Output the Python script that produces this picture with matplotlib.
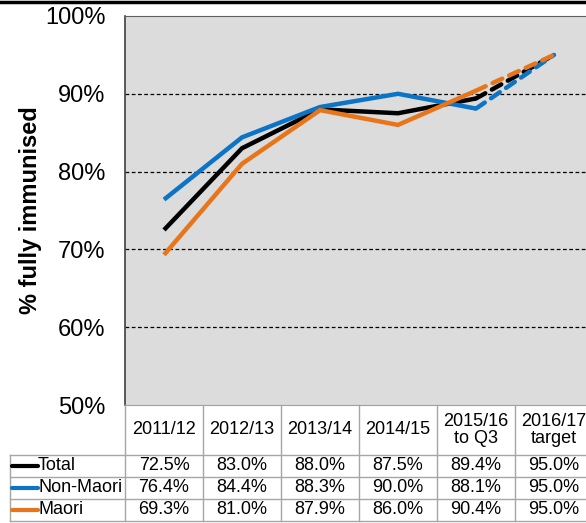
import matplotlib.pyplot as plt
from matplotlib.lines import Line2D

plt.rcParams['font.family'] = ['Liberation Sans', 'DejaVu Sans']

periods = ['2011/12', '2012/13', '2013/14', '2014/15', '2015/16\nto Q3', '2016/17\ntarget']
series = ['Total', 'Non-Maori', 'Maori']
total = [72.5, 83.0, 88.0, 87.5, 89.4, 95.0]
non_maori = [76.4, 84.4, 88.3, 90.0, 88.1, 95.0]
maori = [69.3, 81.0, 87.9, 86.0, 90.4, 95.0]
colors = ['#000000', '#0B74C6', '#E8751A']

values = [total, non_maori, maori]
W, H = 586, 523
fig = plt.figure(figsize=(W / 100, H / 100), dpi=100)

# plot area: x 125..593 px, y 16..405 px (from top)
ax = fig.add_axes([125 / W, (H - 405) / H, 468 / W, 389 / H])
ax.set_facecolor('#dcdcdc')
x = list(range(len(periods)))
for vals, c in zip(values, colors):
    ax.plot(x[:5], vals[:5], color=c, lw=3.2, solid_capstyle='butt', solid_joinstyle='miter', zorder=3)
    ax.plot(x[4:], vals[4:], color=c, lw=3.2, dashes=(2.4, 1.7), dash_capstyle='round', zorder=3)

ax.set_xlim(-0.5, 5.5)
ax.set_ylim(50, 100)
ax.set_yticks([50, 60, 70, 80, 90, 100])
ax.set_yticklabels([f'{v}%' for v in [50, 60, 70, 80, 90, 100]], fontsize=17)
ax.tick_params(axis='y', length=0, pad=14)
ax.set_xticks([])
for g in [60, 70, 80, 90]:
    ax.axhline(g, color='black', lw=0.9, ls=(0, (3, 2)), zorder=1)
ax.spines['left'].set_color('#404040')
ax.spines['left'].set_linewidth(1.2)
ax.spines['top'].set_color('#606060')
ax.spines['top'].set_linestyle((0, (3, 1)))
ax.spines['top'].set_linewidth(0.8)
ax.spines['bottom'].set_color('#a0a0a0')
ax.spines['right'].set_visible(False)
ax.set_ylabel('% fully immunised', fontsize=17, fontweight='bold', labelpad=2)

# data table below the plot: y 405..521 px (from top)
tb = fig.add_axes([125 / W, (H - 522) / H, 468 / W, 117 / H])
tb.set_xlim(-0.5, 5.5)
tb.set_ylim(117, 0)
tb.axis('off')
grid_c = '#a6a6a6'
left_edge = -0.5 - 115 / 78
for i in range(len(periods) + 1):
    tb.plot([i - 0.5, i - 0.5], [0, 116], color=grid_c, lw=1, clip_on=False)
tb.plot([left_edge, left_edge], [50, 116], color=grid_c, lw=1, clip_on=False)
for yy in [50, 72, 94, 116]:
    tb.plot([left_edge, 5.5], [yy, yy], color=grid_c, lw=1, clip_on=False)
for i, p in enumerate(periods):
    tb.text(i, 25, p, ha='center', va='center', fontsize=13, linespacing=1.0)
for r, (name, vals, c) in enumerate(zip(series, values, colors)):
    yc = 61 + 22 * r
    tb.plot([left_edge + 2 / 78, left_edge + 28 / 78], [yc, yc], color=c, lw=3, clip_on=False,
            solid_capstyle='round')
    tb.text(left_edge + 28 / 78, yc, name, ha='left', va='center', fontsize=13)
    for i, v in enumerate(vals):
        tb.text(i, yc, f'{v:.1f}%', ha='center', va='center', fontsize=13)

# black rule along the top of the image
fig.add_artist(Line2D([0, 1], [1 - 1.5 / H, 1 - 1.5 / H], color='black', lw=2.5, transform=fig.transFigure))

fig.savefig('out.png', dpi=100)
